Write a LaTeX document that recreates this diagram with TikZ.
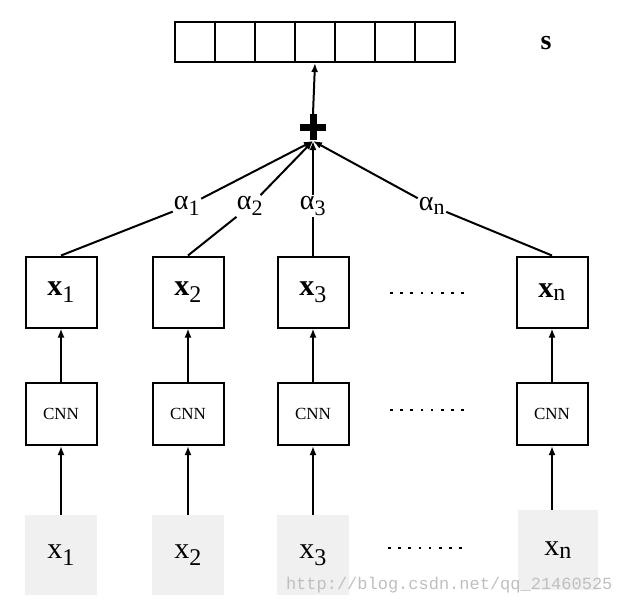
\documentclass[tikz,border=0pt]{standalone}
\usepackage{fontspec}
\setmainfont{Liberation Serif}
\setmonofont{Liberation Mono}
\usetikzlibrary{arrows.meta}
\begin{document}
\begin{tikzpicture}[x=1pt,y=-1pt,
  cell/.style={draw,line width=2pt,minimum width=40pt,minimum height=40pt,inner sep=0pt},
  xbox/.style={draw,line width=2pt,minimum width=71pt,minimum height=71pt,inner sep=0pt,font=\fontsize{30}{32}\selectfont},
  cnnbox/.style={draw,line width=2pt,minimum width=71pt,minimum height=62pt,inner sep=0pt,font=\fontsize{17}{19}\selectfont},
  inbox/.style={fill=black!6,minimum width=72pt,minimum height=80pt,inner sep=0pt,font=\fontsize{30}{32}\selectfont},
  arr/.style={line width=2pt,-{Latex[length=9pt,width=7pt]}},
  lin/.style={line width=2pt},
  alab/.style={font=\fontsize{28}{30}\selectfont,inner sep=1pt},
  dotline/.style={line width=2.6pt,dash pattern=on 2.6pt off 7.6pt}]
\useasboundingbox (0,0) rectangle (626,606);
% top array
\foreach \i in {0,...,6} {
  \node[cell] (c\i) at ({195+\i*40},42) {};
}
\node[font=\fontsize{28}{30}\selectfont\bfseries] (s) at (546,43) {s};
% plus
\node[minimum size=26pt,inner sep=0pt] (plus) at (313,127) {};
\draw[line width=7pt] (plus.west) -- (plus.east);
\draw[line width=7pt] (plus.north) -- (plus.south);
\draw[arr] (plus.north) -- (c3.south);
% x boxes
\newcommand\sbx[1]{\textsubscript{\fontsize{24}{26}\selectfont #1}}
\node[xbox] (h1) at (61,292) {$\mathbf{x}$\sbx{1}};
\node[xbox] (h2) at (188,292) {$\mathbf{x}$\sbx{2}};
\node[xbox] (h3) at (313,292) {$\mathbf{x}$\sbx{3}};
\node[xbox] (hn) at (552,292) {$\mathbf{x}$\sbx{n}};
\coordinate (d1a) at (390,293); \coordinate (d1b) at (470,293);
\draw[dotline] (d1a) -- (d1b);
% CNN boxes
\node[cnnbox] (n1) at (61,414) {CNN};
\node[cnnbox] (n2) at (188,414) {CNN};
\node[cnnbox] (n3) at (313,414) {CNN};
\node[cnnbox] (nn) at (552,414) {CNN};
\coordinate (d2a) at (390,410); \coordinate (d2b) at (470,410);
\draw[dotline] (d2a) -- (d2b);
% inputs
\node[inbox] (i1) at (61,555) {x\sbx{1}};
\node[inbox] (i2) at (188,555) {x\sbx{2}};
\node[inbox] (i3) at (313,555) {x\sbx{3}};
\node[inbox,minimum width=80pt] (in) at (558,550) {x\sbx{n}};
\coordinate (d3a) at (388,548); \coordinate (d3b) at (468,548);
\draw[dotline] (d3a) -- (d3b);
% arrows up
\foreach \a/\b in {i1/n1,i2/n2,i3/n3} { \draw[arr] (\a.north) -- (\b.south); }
\draw[arr] (in.north -| nn.south) -- (nn.south);
\foreach \a/\b in {n1/h1,n2/h2,n3/h3,nn/hn} { \draw[arr] (\a.north) -- (\b.south); }
% alpha labels
\newcommand\sba[1]{\textsubscript{\fontsize{22}{24}\selectfont #1}}
\node[alab] (a1) at (187,206) {α\sba{1}};
\node[alab] (a2) at (250,206) {α\sba{2}};
\node[alab] (a3) at (313,206) {α\sba{3}};
\node[alab] (an) at (432,206) {α\sba{n}};
\coordinate (p) at (313,141);
\draw[lin] (h1.north) -- (a1);
\draw[arr] (a1) -- (p);
\draw[lin] (h2.north) -- (a2);
\draw[arr] (a2) -- (p);
\draw[lin] (h3.north) -- (a3.south);
\draw[arr] (a3.north) -- (p);
\draw[lin] (hn.north) -- (an);
\draw[arr] (an) -- (p);
% watermark
\node[font=\fontsize{17}{18}\selectfont\ttfamily,text=black!25,anchor=east] (wm) at (616,585) {http://blog.csdn.net/qq\_21460525};
\end{tikzpicture}
\end{document}
